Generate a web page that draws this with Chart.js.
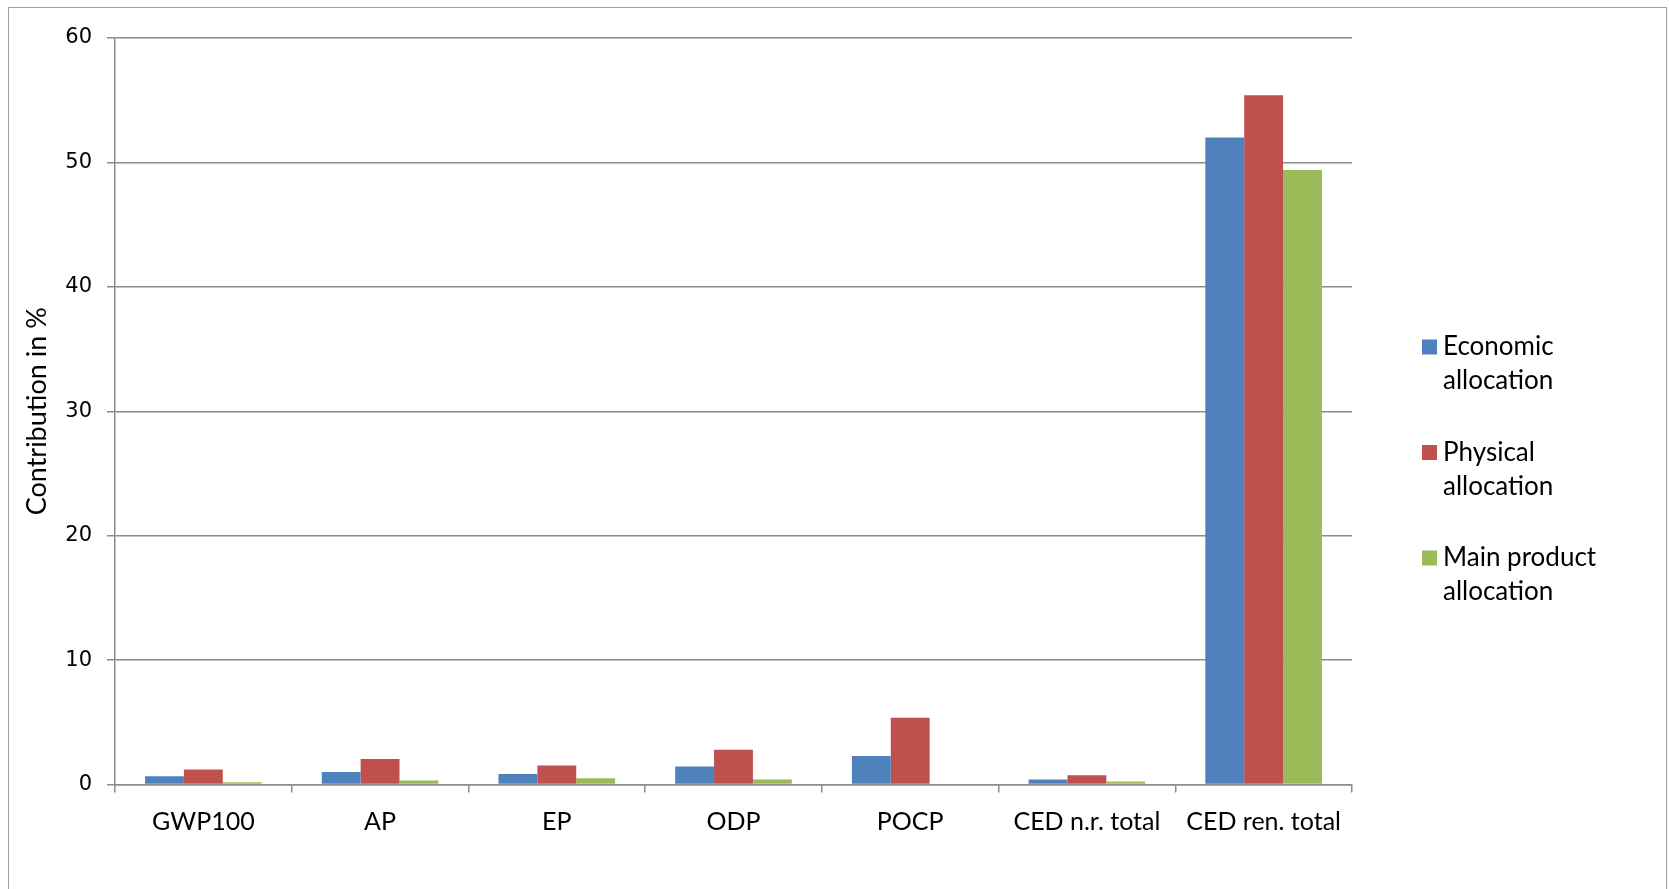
<!DOCTYPE html>
<html>
<head>
<meta charset="utf-8">
<script src="https://cdn.jsdelivr.net/npm/chart.js@4"></script>
<style>
  html, body { margin: 0; padding: 0; background: #fff; overflow: hidden; }
  canvas { display: block; }
</style>
</head>
<body>
<canvas id="chart" width="1669" height="889"></canvas>
<script>
// values
const categories = ["GWP100", "AP", "EP", "ODP", "POCP", "CED n.r. total", "CED ren. total"];
const economic = [0.67, 1.01, 0.85, 1.45, 2.3, 0.4, 52.0];
const physical = [1.21, 2.04, 1.53, 2.8, 5.37, 0.75, 55.4];
const mainProduct = [0.19, 0.32, 0.51, 0.4, 0, 0.24, 49.4];
const seriesNames = [["Economic", "allocation"], ["Physical", "allocation"], ["Main product", "allocation"]];
const seriesColors = ["#4F81BD", "#C0504D", "#9BBB59"];
const yMin = 0, yMax = 60, yStep = 10;

const labelFont = "Lato, 'Open Sans', sans-serif";
const gridColor = "#8c8c8c";

// frame round the whole chart + legend on the right
const framePlugin = {
  id: "frame",
  afterDraw(chart) {
    const ctx = chart.ctx;
    ctx.save();
    ctx.strokeStyle = "#a0a0a0";
    ctx.lineWidth = 1;
    ctx.strokeRect(8.5, 7.5, 1658, 1000);

    ctx.font = "26px " + labelFont;
    ctx.textBaseline = "middle";
    ctx.textAlign = "left";
    chart.data.datasets.forEach((ds, i) => {
      const y0 = 347 + i * 105.5;
      ctx.fillStyle = ds.backgroundColor;
      ctx.fillRect(1422, y0 - 7.5, 15, 15);
      ctx.fillStyle = "#000";
      ds.label.forEach((line, j) => ctx.fillText(line, 1443, y0 + j * 34));
    });
    ctx.restore();
  }
};

new Chart(document.getElementById("chart"), {
  type: "bar",
  data: {
    labels: categories,
    datasets: [economic, physical, mainProduct].map((d, i) => ({
      label: seriesNames[i],
      data: d,
      backgroundColor: seriesColors[i],
      categoryPercentage: 0.66,
      barPercentage: 1.0
    }))
  },
  options: {
    responsive: false,
    animation: false,
    devicePixelRatio: 1,
    layout: { padding: { left: 10, top: 38, right: 317, bottom: 0 } },
    plugins: { legend: { display: false }, tooltip: { enabled: false } },
    scales: {
      x: {
        grid: { offset: true, drawOnChartArea: false, color: gridColor, tickLength: 8, lineWidth: 1.5 },
        border: { color: gridColor, width: 1.5 },
        ticks: { color: "#000", font: { family: labelFont, size: 25 }, padding: 14, maxRotation: 0, autoSkip: false },
        afterFit(scale) { scale.height = 104.5; }
      },
      y: {
        min: yMin,
        max: yMax,
        ticks: { stepSize: yStep, color: "#000", font: { family: "'DejaVu Sans', sans-serif", size: 21 }, padding: 15 },
        grid: { color: gridColor, tickLength: 8, lineWidth: 1.5 },
        border: { color: gridColor, width: 1.5 },
        title: { display: true, text: "Contribution in %", color: "#000", font: { family: labelFont, size: 27 }, padding: { top: 11, bottom: 0 } },
        afterFit(scale) { scale.width = 105; }
      }
    }
  },
  plugins: [framePlugin]
});
</script>
</body>
</html>
